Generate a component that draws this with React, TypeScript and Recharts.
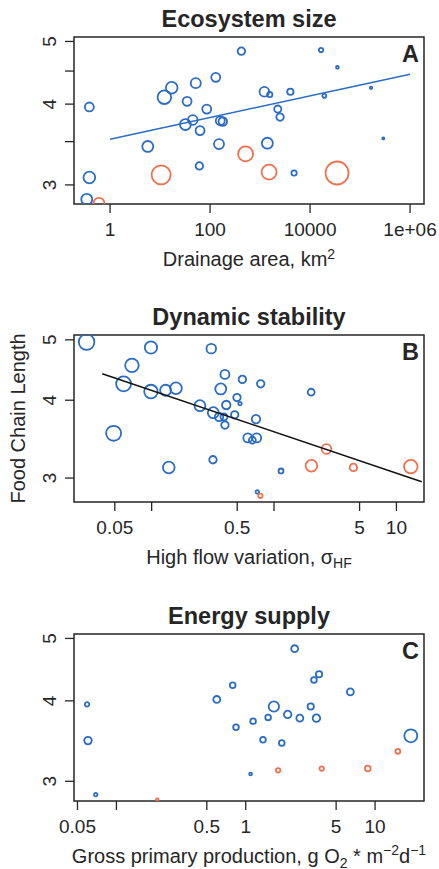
import React from 'react';
import { ScatterChart, Scatter, XAxis, YAxis, ZAxis, ReferenceArea } from 'recharts';

const FONT = "'Liberation Sans', Arial, Helvetica, sans-serif";
const BLUE = '#2b6cc4';
const ORANGE = '#f0704c';
const INK = '#262626';

type Pt = { x: number; y: number; z?: number };

// ---------- Panel A: Ecosystem size (drainage area km2) ----------
const ecoBlue: Pt[] = [
  { x: 423, y: 4.83, z: 14 },
  { x: 0.385, y: 3.96, z: 20 },
  { x: 12.2, y: 4.1, z: 46 },
  { x: 17.1, y: 4.24, z: 34 },
  { x: 51.8, y: 4.31, z: 25 },
  { x: 130, y: 4.4, z: 20 },
  { x: 34.7, y: 4.04, z: 20 },
  { x: 85.9, y: 3.93, z: 20 },
  { x: 45.1, y: 3.78, z: 23 },
  { x: 32.1, y: 3.72, z: 30 },
  { x: 63.1, y: 3.64, z: 20 },
  { x: 160, y: 3.77, z: 20 },
  { x: 180, y: 3.76, z: 18 },
  { x: 5.68, y: 3.44, z: 30 },
  { x: 151, y: 3.47, z: 25 },
  { x: 61.1, y: 3.21, z: 14 },
  { x: 0.385, y: 3.08, z: 34 },
  { x: 0.342, y: 2.85, z: 30 },
  { x: 16600, y: 4.85, z: 5 },
  { x: 35200, y: 4.56, z: 2 },
  { x: 1219, y: 4.18, z: 23 },
  { x: 1563, y: 4.14, z: 7 },
  { x: 4036, y: 4.18, z: 10 },
  { x: 19300, y: 4.12, z: 4 },
  { x: 166000, y: 4.24, z: 1.5 },
  { x: 2259, y: 3.93, z: 13 },
  { x: 2512, y: 3.82, z: 14 },
  { x: 1400, y: 3.48, z: 30 },
  { x: 292000, y: 3.54, z: 1 },
  { x: 4786, y: 3.13, z: 7 },
];
const ecoOrange: Pt[] = [
  { x: 10.5, y: 3.11, z: 90 },
  { x: 0.6, y: 2.81, z: 30 },
  { x: 513, y: 3.35, z: 56 },
  { x: 1514, y: 3.14, z: 56 },
  { x: 34700, y: 3.13, z: 132 },
];
const ecoFit: Pt[] = [
  { x: 1, y: 3.53 },
  { x: 1e6, y: 4.45 },
];

// ---------- Panel B: Dynamic stability (high flow variation) ----------
const dynBlue: Pt[] = [
  { x: 0.0294, y: 4.96, z: 61 },
  { x: 0.0987, y: 4.86, z: 38 },
  { x: 0.307, y: 4.84, z: 23 },
  { x: 0.069, y: 4.55, z: 46 },
  { x: 0.397, y: 4.4, z: 20 },
  { x: 0.551, y: 4.32, z: 14 },
  { x: 0.367, y: 4.17, z: 30 },
  { x: 0.059, y: 4.25, z: 56 },
  { x: 0.0987, y: 4.13, z: 46 },
  { x: 0.13, y: 4.15, z: 30 },
  { x: 0.158, y: 4.18, z: 34 },
  { x: 0.248, y: 3.92, z: 30 },
  { x: 0.407, y: 3.93, z: 18 },
  { x: 0.498, y: 4.04, z: 14 },
  { x: 0.527, y: 3.95, z: 3 },
  { x: 0.319, y: 3.82, z: 30 },
  { x: 0.355, y: 3.76, z: 18 },
  { x: 0.39, y: 3.76, z: 12 },
  { x: 0.477, y: 3.79, z: 14 },
  { x: 0.397, y: 3.65, z: 14 },
  { x: 0.0489, y: 3.54, z: 56 },
  { x: 0.317, y: 3.21, z: 14 },
  { x: 0.138, y: 3.12, z: 34 },
  { x: 0.61, y: 3.48, z: 20 },
  { x: 0.665, y: 3.45, z: 12 },
  { x: 0.722, y: 3.48, z: 20 },
  { x: 0.778, y: 4.25, z: 14 },
  { x: 2.01, y: 4.12, z: 12 },
  { x: 0.712, y: 3.73, z: 18 },
  { x: 1.14, y: 3.08, z: 6 },
  { x: 0.73, y: 2.85, z: 3 },
];
const dynOrange: Pt[] = [
  { x: 0.773, y: 2.81, z: 5 },
  { x: 2.68, y: 3.34, z: 23 },
  { x: 2.02, y: 3.14, z: 34 },
  { x: 4.45, y: 3.12, z: 14 },
  { x: 13.1, y: 3.13, z: 46 },
];
const dynFit: Pt[] = [
  { x: 0.0395, y: 4.41 },
  { x: 16.1, y: 2.96 },
];

// ---------- Panel C: Energy supply (gross primary production) ----------
const gppBlue: Pt[] = [
  { x: 0.0593, y: 3.95, z: 5 },
  { x: 0.0603, y: 3.47, z: 14 },
  { x: 0.0692, y: 2.86, z: 3 },
  { x: 0.597, y: 4.02, z: 12 },
  { x: 0.793, y: 4.23, z: 8 },
  { x: 0.841, y: 3.64, z: 8 },
  { x: 2.39, y: 4.82, z: 12 },
  { x: 3.69, y: 4.4, z: 10 },
  { x: 3.37, y: 4.31, z: 8 },
  { x: 6.44, y: 4.13, z: 12 },
  { x: 1.65, y: 3.92, z: 27 },
  { x: 3.18, y: 3.92, z: 10 },
  { x: 2.11, y: 3.81, z: 14 },
  { x: 1.49, y: 3.77, z: 8 },
  { x: 2.62, y: 3.76, z: 12 },
  { x: 3.52, y: 3.76, z: 14 },
  { x: 1.14, y: 3.72, z: 8 },
  { x: 1.36, y: 3.48, z: 8 },
  { x: 1.9, y: 3.44, z: 8 },
  { x: 1.09, y: 3.08, z: 2 },
  { x: 18.9, y: 3.53, z: 42 },
];
const gppOrange: Pt[] = [
  { x: 0.207, y: 2.81, z: 1.5 },
  { x: 1.78, y: 3.12, z: 5 },
  { x: 3.87, y: 3.14, z: 5 },
  { x: 8.78, y: 3.14, z: 8 },
  { x: 15.0, y: 3.34, z: 6 },
];

// ---------- axes ----------
const ecoXTicks = [1, 100, 10000, 1000000];
const ecoXLabels = [1, 100, 10000, 1000000];
const dynXTicks = [0.05, 0.1, 0.5, 1, 5, 10];
const dynXLabels = [0.05, 0.5, 5, 10];
const gppXTicks = [0.05, 0.1, 0.5, 1, 5, 10];
const gppXLabels = [0.05, 0.5, 1, 5, 10];
const ecoYTicks = [3, 3.5, 4, 4.5, 5];
const stdYTicks = [3, 4, 5];

const W = 439;
const CHART_H = 290;
const TOP = 37;
const RIGHT = 15;
const Y_W = 74;
const PLOT_H = 167;
const X_H = CHART_H - TOP - PLOT_H;

const fmt = (v: number) => (v >= 1e6 ? '1e+06' : String(v));

type PanelProps = {
  top: number;
  title: string;
  letter: string;
  xDomain: [number, number];
  yDomain: [number, number];
  xTicks: number[];
  xLabels: number[];
  yTicks: number[];
  blue: Pt[];
  orange: Pt[];
  fit?: Pt[];
  fitColor?: string;
  xTitle: React.ReactNode;
  yTitle?: string;
};

function Panel(p: PanelProps) {
  const left = Y_W;
  const right = W - RIGHT;
  const bottom = TOP + PLOT_H;
  const mid = (left + right) / 2;

  const xTick = (props: any) => {
    const v = props.payload.value;
    if (!p.xLabels.includes(v)) return <g />;
    return (
      <text x={props.x} y={bottom + 31.7} textAnchor="middle" fontFamily={FONT} fontSize={19} fill={INK}>
        {fmt(v)}
      </text>
    );
  };
  const yTick = (props: any) => {
    const v = props.payload.value;
    if (!Number.isInteger(v)) return <g />;
    const x = 56;
    const y = props.y;
    return (
      <text x={x} y={y} transform={`rotate(-90 ${x} ${y})`} textAnchor="middle" fontFamily={FONT} fontSize={19} fill={INK}>
        {v}
      </text>
    );
  };

  return (
    <div style={{ position: 'absolute', left: 0, top: p.top, width: W, height: CHART_H }}>
      <ScatterChart width={W} height={CHART_H} margin={{ top: TOP, right: RIGHT, bottom: 0, left: 0 }}>
        <XAxis
          type="number"
          dataKey="x"
          scale="log"
          domain={p.xDomain}
          allowDataOverflow
          ticks={p.xTicks}
          interval={0}
          tick={xTick}
          tickSize={9}
          tickLine={{ stroke: INK, strokeWidth: 1.3 }}
          axisLine={false}
          height={X_H}
        />
        <YAxis
          type="number"
          dataKey="y"
          scale="log"
          domain={p.yDomain}
          allowDataOverflow
          ticks={p.yTicks}
          interval={0}
          tick={yTick}
          tickSize={9}
          tickLine={{ stroke: INK, strokeWidth: 1.3 }}
          axisLine={false}
          width={Y_W}
        />
        <ZAxis type="number" dataKey="z" domain={[0, 160]} range={[0, 160 * Math.PI]} />
        <ReferenceArea
          x1={p.xDomain[0]}
          x2={p.xDomain[1]}
          y1={p.yDomain[0]}
          y2={p.yDomain[1]}
          fill="none"
          stroke={INK}
          strokeWidth={1.5}
          ifOverflow="visible"
        />
        <Scatter data={p.blue} shape="circle" fill="none" stroke={BLUE} strokeWidth={1.8} isAnimationActive={false} />
        <Scatter data={p.orange} shape="circle" fill="none" stroke={ORANGE} strokeWidth={1.8} isAnimationActive={false} />
        {p.fit && (
          <Scatter
            data={p.fit}
            stroke={p.fitColor}
            line={{ stroke: p.fitColor, strokeWidth: 1.5 }}
            shape={() => <g />}
            isAnimationActive={false}
          />
        )}
        <text x={mid} y={TOP - 10.5} textAnchor="middle" fontFamily={FONT} fontSize={23.5} fontWeight="bold" fill={INK}>
          {p.title}
        </text>
        <text x={right - 5} y={TOP + 25.3} textAnchor="end" fontFamily={FONT} fontSize={23.5} fontWeight="bold" fill={INK}>
          {p.letter}
        </text>
        <text x={mid} y={bottom + 62} textAnchor="middle" fontFamily={FONT} fontSize={20} fill={INK}>
          {p.xTitle}
        </text>
        {p.yTitle && (
          <text
            x={25}
            y={TOP + PLOT_H / 2}
            transform={`rotate(-90 25 ${TOP + PLOT_H / 2})`}
            textAnchor="middle"
            fontFamily={FONT}
            fontSize={20}
            fill={INK}
          >
            {p.yTitle}
          </text>
        )}
      </ScatterChart>
    </div>
  );
}

export default function App() {
  return (
    <div style={{ position: 'absolute', left: 0, top: 0, width: W, height: 869, overflow: 'hidden', background: '#fff' }}>
      <Panel
        top={0}
        title="Ecosystem size"
        letter="A"
        xDomain={[0.19, 1.9e6]}
        yDomain={[2.803, 5.08]}
        xTicks={ecoXTicks}
        xLabels={ecoXLabels}
        yTicks={ecoYTicks}
        blue={ecoBlue}
        orange={ecoOrange}
        fit={ecoFit}
        fitColor={BLUE}
        xTitle={
          <>
            <tspan>Drainage area, km</tspan>
            <tspan dy={-7.5} fontSize={14}>2</tspan>
          </>
        }
      />
      <Panel
        top={298}
        title="Dynamic stability"
        letter="B"
        xDomain={[0.0232, 16.8]}
        yDomain={[2.746, 5.09]}
        xTicks={dynXTicks}
        xLabels={dynXLabels}
        yTicks={stdYTicks}
        blue={dynBlue}
        orange={dynOrange}
        fit={dynFit}
        fitColor="#111"
        yTitle="Food Chain Length"
        xTitle={
          <>
            <tspan>High flow variation, σ</tspan>
            <tspan dy={4} fontSize={14}>HF</tspan>
          </>
        }
      />
      <Panel
        top={596.5}
        title="Energy supply"
        letter="C"
        xDomain={[0.047, 23.9]}
        yDomain={[2.796, 5.08]}
        xTicks={gppXTicks}
        xLabels={gppXLabels}
        yTicks={stdYTicks}
        blue={gppBlue}
        orange={gppOrange}
        xTitle={
          <>
            <tspan>Gross primary production, g O</tspan>
            <tspan dy={5} fontSize={14}>2</tspan>
            <tspan dy={-5}> * m</tspan>
            <tspan dy={-8} fontSize={14}>−2</tspan>
            <tspan dy={8}>d</tspan>
            <tspan dy={-8} fontSize={14}>−1</tspan>
          </>
        }
      />
    </div>
  );
}
